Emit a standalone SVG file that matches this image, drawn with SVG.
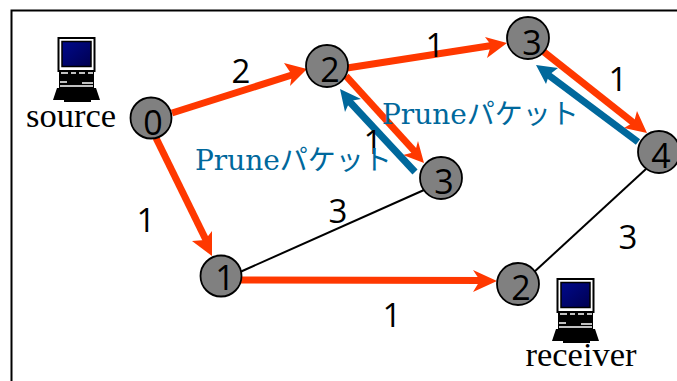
<svg xmlns="http://www.w3.org/2000/svg" width="677" height="381" viewBox="0 0 677 381">
<style>
.n{fill:#808080;stroke:#000;stroke-width:1.8}
.nt{font-family:"Open Sans",sans-serif;font-size:34px;fill:#000;text-anchor:middle}
.w{font-family:"Open Sans",sans-serif;font-size:33px;fill:#000;text-anchor:middle}
.lb{font-family:"Liberation Serif",serif;font-size:34.500px;fill:#000;text-anchor:middle}
.pr{font-family:"DejaVu Serif","Noto Sans CJK JP",serif;font-size:28px;fill:#00689c}
.r{stroke:#ff3800;stroke-width:7;fill:none}
.b{stroke:#00689c;stroke-width:7;fill:none}
.k{stroke:#000;stroke-width:2;fill:none}
</style>
<defs>
<linearGradient id="scr" x1="0" y1="0" x2="1" y2="1"><stop offset="0" stop-color="#000a8c"/><stop offset="1" stop-color="#000050"/></linearGradient>
<g id="pc">
<rect x="6.500" y="0" width="36" height="33" fill="#fff" stroke="#000" stroke-width="2"/>
<rect x="10" y="3.500" width="29" height="25" fill="url(#scr)" stroke="#000" stroke-width="1.500"/>
<rect x="7" y="33" width="35" height="17" fill="#000"/>
<path d="M9 35H16M19 35H24M27 35H33M36 35H41M8 44H15M30 45H41M8 48H41" stroke="#fff" stroke-width="1.500" fill="none"/>
<path d="M1 62L5 50H44L48 62Z" fill="#000"/>
<rect x="12" y="60" width="27" height="4" fill="#000"/>
</g>
</defs>
<path d="M11.500 381V10.500H677" fill="none" stroke="#000" stroke-width="2"/>
<g id="connectors">
<line class="k" x1="240" y1="272" x2="424" y2="190"/>
<line class="k" x1="533" y1="273" x2="646" y2="169"/>
<line class="r" x1="347" y1="68" x2="495" y2="45"/>
<polygon points="507,43 485,37 491,45 487,58" fill="#ff3800"/>
<line class="r" x1="172" y1="113" x2="295" y2="74"/>
<polygon points="307,69 284,63 292,75 290,86" fill="#ff3800"/>
<line class="r" x1="156" y1="138" x2="206" y2="240"/>
<polygon points="212,256 192,241 205,240 212,231" fill="#ff3800"/>
<line class="r" x1="241" y1="280" x2="485" y2="280.500"/>
<polygon points="497,281 473,270 480,280.500 473,292" fill="#ff3800"/>
<line class="r" x1="346" y1="76" x2="417" y2="154"/>
<polygon points="424,163 403,155 415,152 418,141" fill="#ff3800"/>
<line class="r" x1="544" y1="52" x2="635" y2="124"/>
<polygon points="647,133 624,128 634,122 637,111" fill="#ff3800"/>
<line class="b" x1="415" y1="172" x2="348" y2="100"/>
<polygon points="340,89 361,99 350,101 345,112" fill="#00689c"/>
<line class="b" x1="638" y1="142" x2="547" y2="74"/>
<polygon points="536,65 558,68 549,75 546,84" fill="#00689c"/>
</g>
<g id="node-source-pc"><use href="#pc" x="52" y="38"/><text class="lb" x="71" y="127">source</text></g>
<g id="node-receiver-pc"><use href="#pc" x="551" y="279"/><text class="lb" x="581" y="366">receiver</text></g>
<g id="node-0"><circle class="n" cx="151" cy="118" r="20.500"/><text class="nt" x="153" y="135">0</text></g>
<g id="node-2a"><circle class="n" cx="327" cy="66" r="21"/><text class="nt" x="330" y="82">2</text></g>
<g id="node-3a"><circle class="n" cx="528" cy="38" r="21"/><text class="nt" x="532" y="55">3</text></g>
<g id="node-4"><circle class="n" cx="659" cy="152" r="21"/><text class="nt" x="661" y="168">4</text></g>
<g id="node-3b"><circle class="n" cx="441" cy="178" r="21"/><text class="nt" x="444" y="194">3</text></g>
<g id="node-1"><circle class="n" cx="221" cy="276" r="20.500"/><text class="nt" x="225" y="290">1</text></g>
<g id="node-2b"><circle class="n" cx="518" cy="284" r="21"/><text class="nt" x="521" y="300">2</text></g>
<g id="labels">
<text class="w" x="241" y="83">2</text>
<text class="w" x="435" y="57">1</text>
<text class="w" x="618" y="91">1</text>
<text class="w" x="146" y="232">1</text>
<text class="w" x="338" y="223">3</text>
<text class="w" x="373" y="154">1</text>
<text class="w" x="628" y="249">3</text>
<text class="w" x="392" y="327">1</text>
<text class="pr" x="195" y="170">Pruneパケット</text>
<text class="pr" x="382" y="124">Pruneパケット</text>
</g>
</svg>
